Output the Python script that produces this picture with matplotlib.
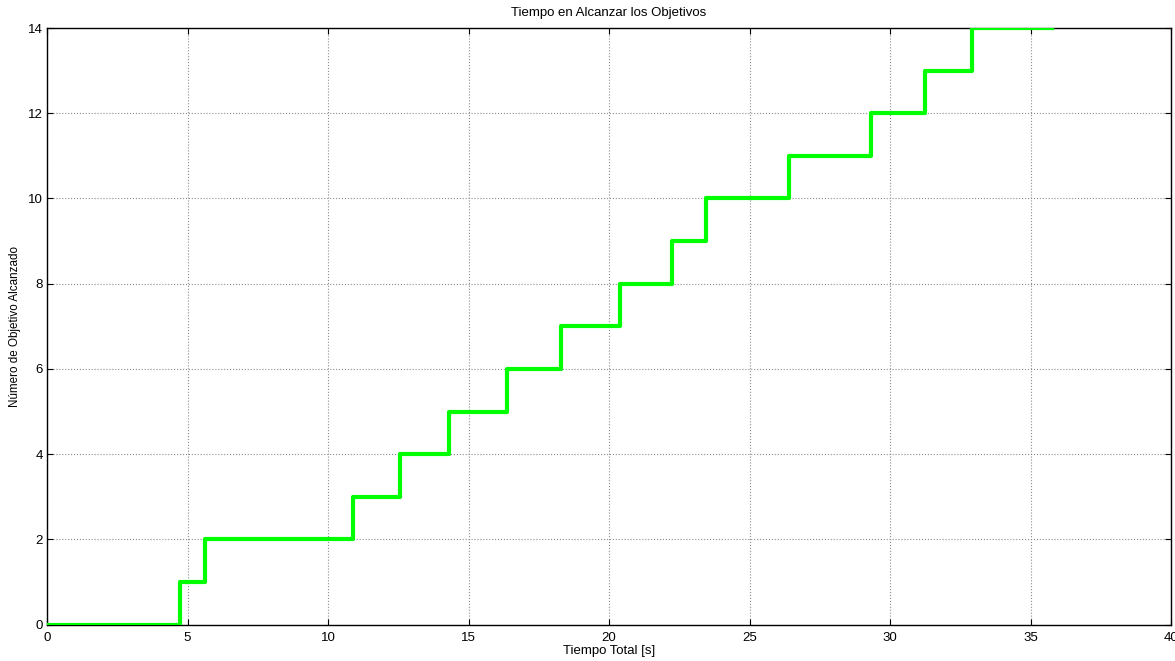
import matplotlib
matplotlib.use('Agg')
import matplotlib.pyplot as plt
import numpy as np

# Step times (s) and the objective number reached at each one
tiempos   = [0.0, 4.73, 5.62, 10.9, 12.56, 14.32, 16.36, 18.29, 20.39, 22.25, 23.45, 26.42, 29.33, 31.26, 32.93, 35.78]
objetivos = [0, 1, 2, 3, 4, 5, 6, 7, 8, 9, 10, 11, 12, 13, 14, 14]

plt.rcParams['font.family'] = ['Liberation Sans', 'DejaVu Sans']
plt.rcParams['xtick.direction'], plt.rcParams['ytick.direction'] = 'in', 'in'

fig = plt.figure(figsize=(11.75, 6.61), dpi=100)
ax = fig.add_axes([0.04, 0.055, 0.9566, 0.9026])

ax.plot(tiempos, objetivos, drawstyle='steps-post', color='#00ff00', lw=3, zorder=3)

ax.set_xlim(0, 40)
ax.set_ylim(0, 14)
ax.set_xticks(np.arange(0, 41, 5))
ax.set_yticks(np.arange(0, 15, 2))
ax.tick_params(labelsize=9.5, top=True, right=True, length=4, width=0.8)
ax.tick_params(axis='x', pad=5)
ax.tick_params(axis='y', pad=3)
ax.grid(True, color='#8c8c8c', linestyle=':', linewidth=0.8)
for s in ax.spines.values():
    s.set_linewidth(1.0)

ax.set_title('Tiempo en Alcanzar los Objetivos', fontsize=9.5, pad=9)
ax.set_xlabel('Tiempo Total [s]', fontsize=9.5, labelpad=1)
ax.set_ylabel('Número de Objetivo Alcanzado', fontsize=8.4, labelpad=5)

fig.savefig('out.png', dpi=100)
